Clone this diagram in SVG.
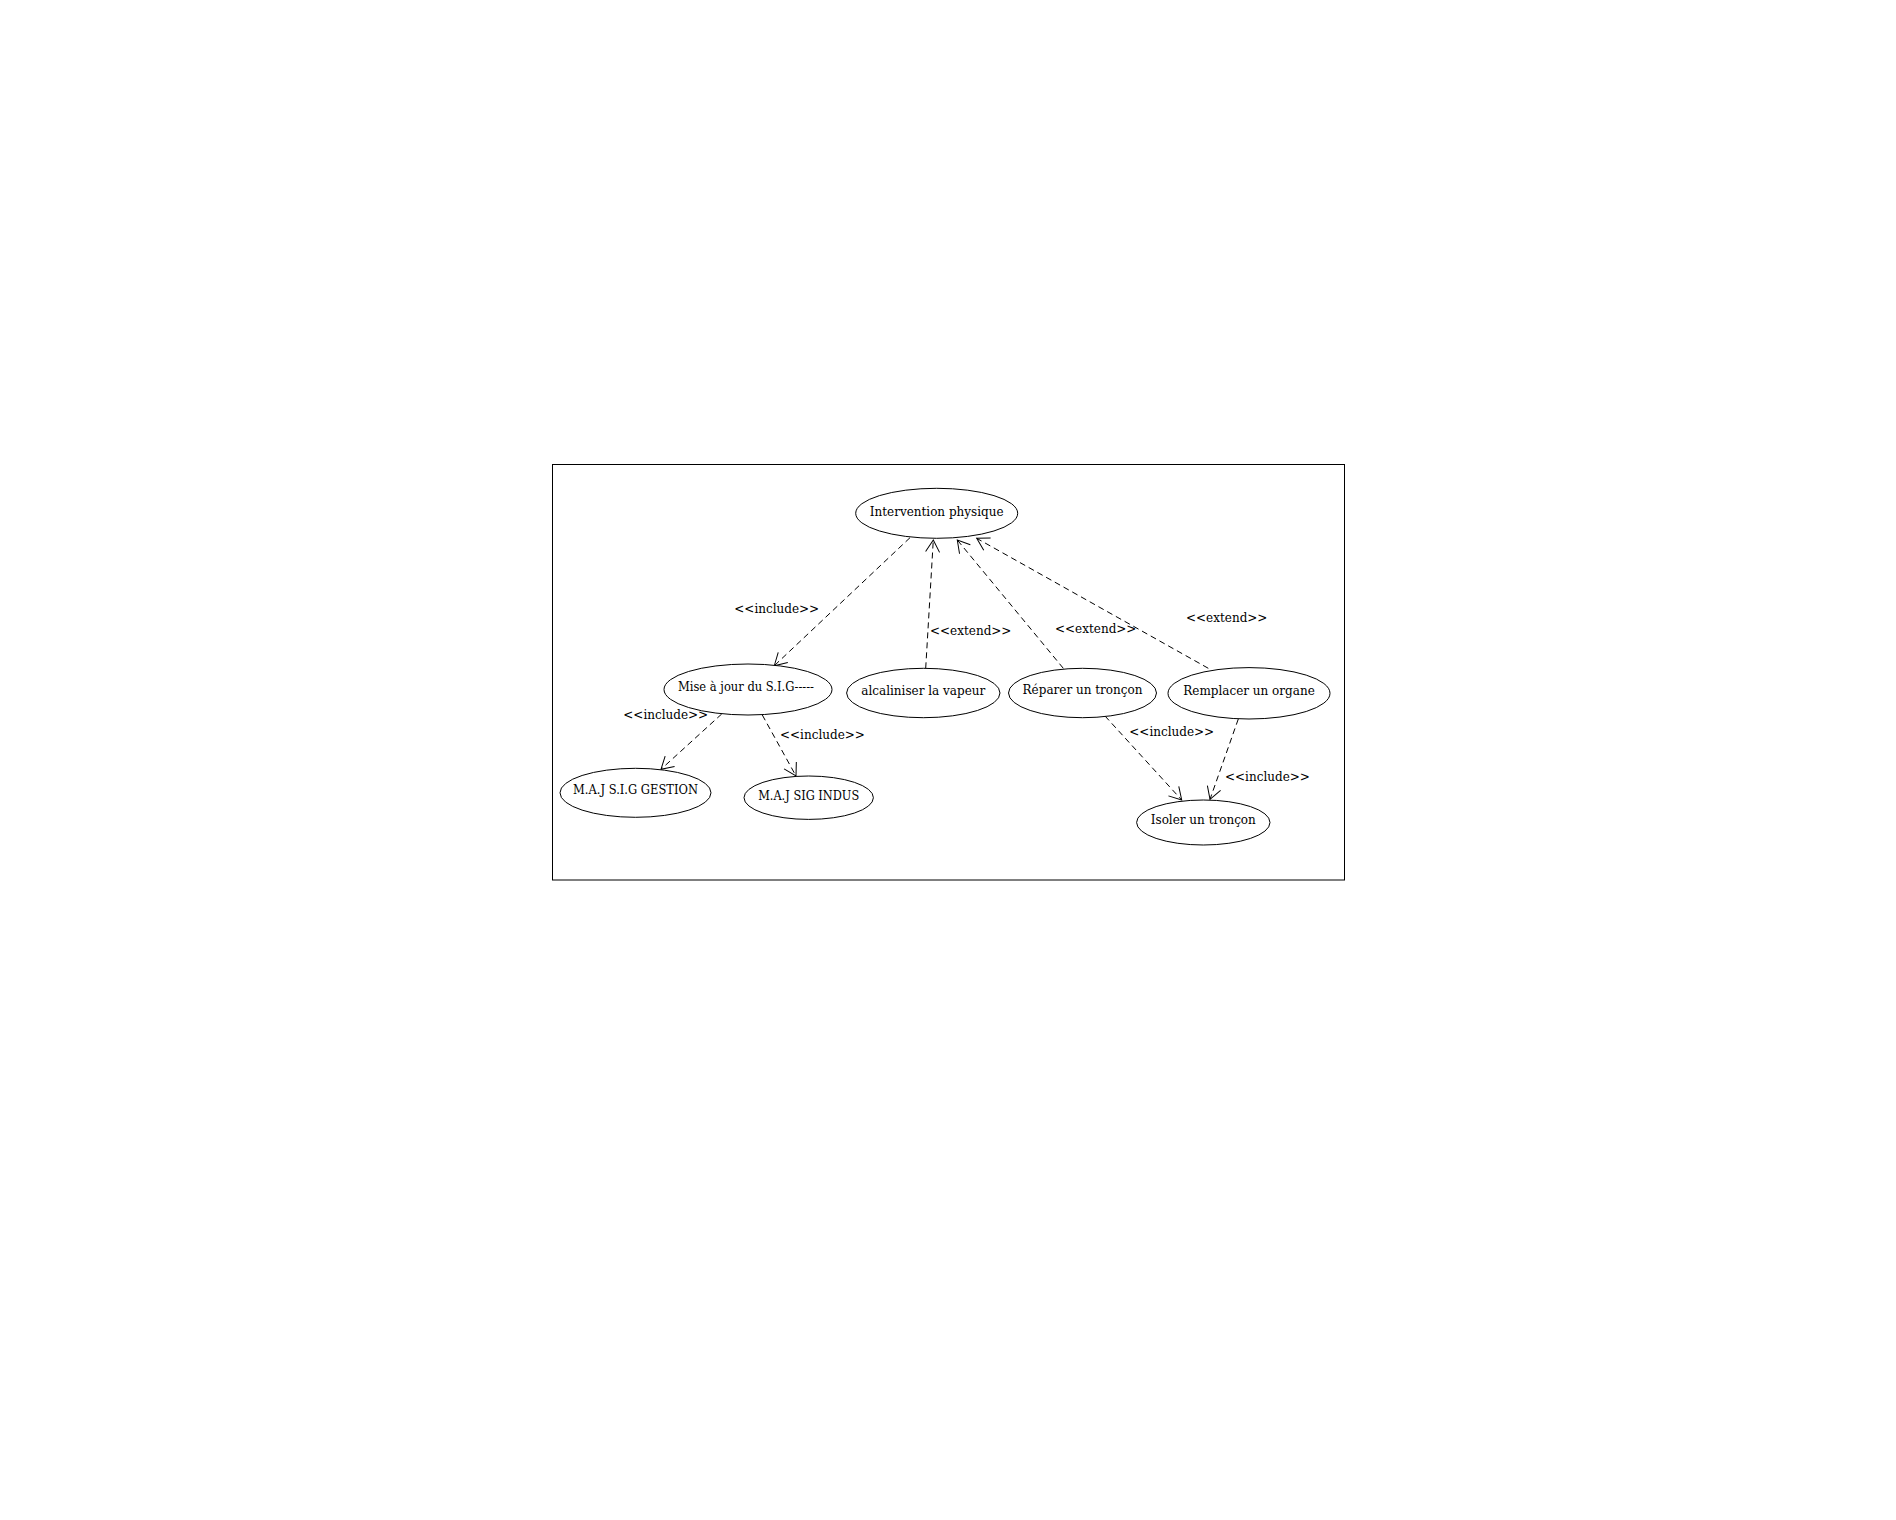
<svg xmlns="http://www.w3.org/2000/svg" width="1896" height="1520" viewBox="0 0 1896 1520">
<style>
.uc{fill:#fff;stroke:#000;stroke-width:1}
.t{font-family:"DejaVu Serif",serif;font-size:12px;fill:#000}
.c{text-anchor:middle}
.e{fill:none;stroke:#000;stroke-width:1;stroke-dasharray:6,4}
</style>
<defs>
<marker id="arr" markerUnits="userSpaceOnUse" markerWidth="30" markerHeight="30" refX="15" refY="15" orient="auto" viewBox="0 0 30 30" overflow="visible">
<path d="M3,8 L15,15 L3,22" fill="none" stroke="#000" stroke-width="1"/>
</marker>
</defs>
<rect width="1896" height="1520" fill="#fff"/>
<rect x="552.5" y="464.5" width="792" height="415.5" fill="none" stroke="#000" stroke-width="1"/>
<g id="connectors">
<line class="e" x1="910" y1="537.7" x2="774.3" y2="665.7" marker-end="url(#arr)"/>
<line class="e" x1="925.7" y1="668.3" x2="933.3" y2="540" marker-end="url(#arr)"/>
<line class="e" x1="1063.3" y1="668.3" x2="957.3" y2="540" marker-end="url(#arr)"/>
<line class="e" x1="1208.3" y1="668.3" x2="976.7" y2="538.3" marker-end="url(#arr)"/>
<line class="e" x1="721.7" y1="714" x2="661" y2="769.3" marker-end="url(#arr)"/>
<line class="e" x1="762.3" y1="715" x2="796" y2="776" marker-end="url(#arr)"/>
<line class="e" x1="1105" y1="716" x2="1181.7" y2="800" marker-end="url(#arr)"/>
<line class="e" x1="1238.3" y1="719" x2="1210" y2="799.3" marker-end="url(#arr)"/>
<text class="t" x="734.3" y="613">&lt;&lt;include&gt;&gt;</text>
<text class="t" x="930" y="635">&lt;&lt;extend&gt;&gt;</text>
<text class="t" x="1055" y="633">&lt;&lt;extend&gt;&gt;</text>
<text class="t" x="1186" y="621.5">&lt;&lt;extend&gt;&gt;</text>
<text class="t" x="623.3" y="718.5">&lt;&lt;include&gt;&gt;</text>
<text class="t" x="780" y="738.5">&lt;&lt;include&gt;&gt;</text>
<text class="t" x="1129.3" y="736">&lt;&lt;include&gt;&gt;</text>
<text class="t" x="1225" y="781">&lt;&lt;include&gt;&gt;</text>
</g>
<g id="intervention">
<ellipse class="uc" cx="936.7" cy="513.3" rx="81" ry="25"/>
<text class="t c" x="936.7" y="515.7">Intervention physique</text>
</g>
<g id="maj-sig">
<ellipse class="uc" cx="748" cy="689.5" rx="84" ry="25.5"/>
<text class="t c" x="746" y="690.7" textLength="136" lengthAdjust="spacingAndGlyphs">Mise à jour du S.I.G-----</text>
</g>
<g id="alcaliniser">
<ellipse class="uc" cx="923.3" cy="693" rx="76.7" ry="24.7"/>
<text class="t c" x="923.3" y="694.5">alcaliniser la vapeur</text>
</g>
<g id="reparer">
<ellipse class="uc" cx="1082.5" cy="693" rx="74" ry="24.7"/>
<text class="t c" x="1082.5" y="693.5">Réparer un tronçon</text>
</g>
<g id="remplacer">
<ellipse class="uc" cx="1249" cy="693.3" rx="81" ry="25.7"/>
<text class="t c" x="1249" y="694.5">Remplacer un organe</text>
</g>
<g id="isoler">
<ellipse class="uc" cx="1203.3" cy="822.5" rx="66.7" ry="22.5"/>
<text class="t c" x="1203.3" y="824.3">Isoler un tronçon</text>
</g>
<g id="maj-gestion">
<ellipse class="uc" cx="635.5" cy="792.8" rx="75.5" ry="24.5"/>
<text class="t c" x="635.5" y="794" textLength="125" lengthAdjust="spacingAndGlyphs">M.A.J S.I.G GESTION</text>
</g>
<g id="maj-indus">
<ellipse class="uc" cx="808.7" cy="797.7" rx="64.7" ry="21.7"/>
<text class="t c" x="808.7" y="799.5" textLength="101" lengthAdjust="spacingAndGlyphs">M.A.J SIG INDUS</text>
</g>
</svg>
